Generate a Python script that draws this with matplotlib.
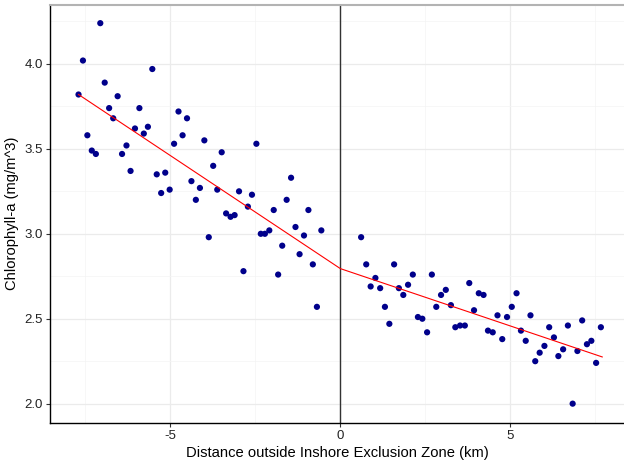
import matplotlib
matplotlib.use("Agg")
import matplotlib.pyplot as plt
from matplotlib.ticker import MultipleLocator, FormatStrFormatter, FuncFormatter

plt.rcParams['font.family'] = ['Liberation Sans', 'DejaVu Sans']

# inside the zone (negative distance)
dist_in = [-7.70, -7.57, -7.44, -7.31, -7.19, -7.06, -6.93, -6.80, -6.68, -6.55,
           -6.42, -6.29, -6.17, -6.04, -5.91, -5.78, -5.66, -5.53, -5.40, -5.27,
           -5.15, -5.02, -4.89, -4.76, -4.64, -4.51, -4.38, -4.25, -4.13, -4.00,
           -3.87, -3.74, -3.62, -3.49, -3.36, -3.23, -3.11, -2.98, -2.85, -2.72,
           -2.60, -2.47, -2.34, -2.22, -2.09, -1.96, -1.83, -1.71, -1.58, -1.45,
           -1.32, -1.20, -1.07, -0.94, -0.81, -0.69, -0.56]
chl_in = [3.82, 4.02, 3.58, 3.49, 3.47, 4.24, 3.89, 3.74, 3.68, 3.81,
          3.47, 3.52, 3.37, 3.62, 3.74, 3.59, 3.63, 3.97, 3.35, 3.24,
          3.36, 3.26, 3.53, 3.72, 3.58, 3.68, 3.31, 3.20, 3.27, 3.55,
          2.98, 3.40, 3.26, 3.48, 3.12, 3.10, 3.11, 3.25, 2.78, 3.16,
          3.23, 3.53, 3.00, 3.00, 3.02, 3.14, 2.76, 2.93, 3.20, 3.33,
          3.04, 2.88, 2.99, 3.14, 2.82, 2.57, 3.02]

# outside the zone
dist_out = [0.61, 0.76, 0.89, 1.03, 1.17, 1.31, 1.44, 1.58, 1.72, 1.85,
            1.99, 2.13, 2.28, 2.41, 2.55, 2.69, 2.82, 2.96, 3.10, 3.25,
            3.38, 3.52, 3.66, 3.79, 3.93, 4.07, 4.21, 4.34, 4.48, 4.62,
            4.76, 4.90, 5.04, 5.18, 5.31, 5.45, 5.59, 5.73, 5.86, 6.00,
            6.14, 6.28, 6.41, 6.55, 6.69, 6.83, 6.97, 7.11, 7.25, 7.38,
            7.52, 7.66]
chl_out = [2.98, 2.82, 2.69, 2.74, 2.68, 2.57, 2.47, 2.82, 2.68, 2.64,
           2.70, 2.76, 2.51, 2.50, 2.42, 2.76, 2.57, 2.64, 2.67, 2.58,
           2.45, 2.46, 2.46, 2.71, 2.55, 2.65, 2.64, 2.43, 2.42, 2.52,
           2.38, 2.51, 2.57, 2.65, 2.43, 2.37, 2.52, 2.25, 2.30, 2.34,
           2.45, 2.39, 2.28, 2.32, 2.46, 2.00, 2.31, 2.49, 2.35, 2.37,
           2.24, 2.45]

# segmented fit, break at the zone boundary
fit_x = [-7.70, 0.0, 7.70]
fit_y = [3.82, 2.795, 2.275]

fig = plt.figure(figsize=(6.24, 4.65), dpi=100)
ax = fig.add_axes([0.0806, 0.091, 0.9194, 0.899])

ax.set_xlim(-8.53, 8.34)
ax.set_ylim(1.888, 4.349)

ax.xaxis.set_major_locator(MultipleLocator(5))
ax.xaxis.set_minor_locator(MultipleLocator(2.5))
ax.yaxis.set_major_locator(MultipleLocator(0.5))
ax.yaxis.set_minor_locator(MultipleLocator(0.25))
ax.yaxis.set_major_formatter(FormatStrFormatter('%.1f'))
ax.xaxis.set_major_formatter(FuncFormatter(lambda v, p: f"{v:g}"))

ax.grid(which='major', color='#EBEBEB', lw=0.9, zorder=0)
ax.grid(which='minor', color='#F4F4F4', lw=0.5, zorder=0)
ax.set_axisbelow(True)

ax.axvline(0, color='#333333', lw=1.0, zorder=1)
ax.scatter(dist_in + dist_out, chl_in + chl_out, s=20, color='#00008B',
           edgecolors='none', zorder=3)
ax.plot(fit_x, fit_y, color='red', lw=0.8, zorder=4)

for side in ['left', 'bottom']:
    ax.spines[side].set_color('black')
    ax.spines[side].set_linewidth(1.0)
ax.spines['top'].set_color('#B3B3B3')
ax.spines['top'].set_linewidth(1.5)
ax.spines['right'].set_visible(False)

ax.tick_params(which='major', length=3, width=0.8, color='#333333',
               labelsize=9.5, labelcolor='#222222', pad=2.5)
ax.tick_params(which='minor', length=0)

ax.set_xlabel('Distance outside Inshore Exclusion Zone (km)', fontsize=10.6, labelpad=3)
ax.set_ylabel('Chlorophyll-a (mg/m^3)', fontsize=10.6, labelpad=4)

fig.savefig('out.png', dpi=100)
